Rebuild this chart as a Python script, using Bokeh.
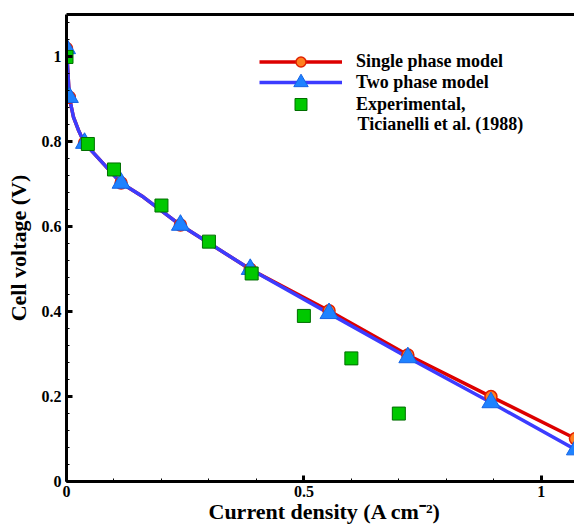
from bokeh.plotting import figure
from bokeh.models import (FixedTicker, LinearAxis, Legend, LegendItem, Label, Title)
from bokeh.embed import file_html
from bokeh.resources import INLINE
import numpy as np

# ---- data ----
single_x = [0.0, 0.006, 0.0147, 0.025, 0.038, 0.065, 0.093, 0.115, 0.162, 0.24, 0.387, 0.553, 0.719, 0.894, 1.072]
single_y = [1.02, 0.905, 0.858, 0.828, 0.797, 0.764, 0.730, 0.703, 0.670, 0.604, 0.500, 0.402, 0.298, 0.200, 0.101]
single_mx = [0.0, 0.006, 0.038, 0.115, 0.24, 0.387, 0.553, 0.719, 0.894, 1.072]
single_my = [1.02, 0.905, 0.797, 0.703, 0.604, 0.500, 0.402, 0.298, 0.200, 0.101]

two_x = [0.0, 0.006, 0.0147, 0.025, 0.038, 0.065, 0.093, 0.115, 0.162, 0.24, 0.387, 0.553, 0.719, 0.894, 1.072]
two_y = [1.02, 0.905, 0.858, 0.828, 0.797, 0.764, 0.730, 0.703, 0.670, 0.604, 0.500, 0.396, 0.292, 0.186, 0.075]
two_mx = [0.0, 0.006, 0.038, 0.115, 0.24, 0.387, 0.553, 0.719, 0.894, 1.072]
two_my = [1.02, 0.905, 0.797, 0.703, 0.604, 0.500, 0.396, 0.292, 0.186, 0.075]

exp_x = [0.0, 0.045, 0.1, 0.2, 0.3, 0.39, 0.5, 0.6, 0.7]
exp_y = [1.0, 0.795, 0.735, 0.65, 0.565, 0.49, 0.39, 0.29, 0.16]

x_ticks = [0, 0.5, 1]
x_tick_labels = ["0", "0.5", "1"]
y_ticks = [0, 0.2, 0.4, 0.6, 0.8, 1.0]
y_tick_labels = ["0", "0.2", "0.4", "0.6", "0.8", "1"]

labels = ["Single phase model", "Two phase model", "Experimental,"]
label_cont = "Ticianelli et al. (1988)"
x_title = "Current density (A cm\u207b\u00b2)"
y_title = "Cell voltage (V)"

FONT = "Liberation Serif"

p = figure(width=574, height=525, x_range=(0, 1.07), y_range=(0, 1.1),
           output_backend="svg", toolbar_location=None,
           min_border_left=66, min_border_right=0, min_border_top=14, min_border_bottom=44)
p.outline_line_color = None
p.grid.visible = False
p.background_fill_color = "white"
p.border_fill_color = "white"

for ax, ticks, labs, minors in ((p.xaxis[0], x_ticks, x_tick_labels, list(np.round(np.arange(0, 1.11, 0.1), 3))),
                                (p.yaxis[0], y_ticks, y_tick_labels, list(np.round(np.arange(0, 1.11, 0.04), 3)))):
    ax.ticker = FixedTicker(ticks=ticks, minor_ticks=minors)
    ax.major_label_overrides = {t: l for t, l in zip(ticks, labs)}
    ax.axis_line_width = 3
    ax.axis_line_color = "black"
    ax.major_tick_in = 6
    ax.major_tick_out = 0
    ax.major_tick_line_width = 3
    ax.minor_tick_in = 3
    ax.minor_tick_out = 0
    ax.minor_tick_line_width = 1
    ax.major_label_text_font = FONT
    ax.major_label_text_font_style = "bold"
    ax.major_label_text_font_size = "16px"
    ax.major_label_text_color = "black"
    ax.major_label_standoff = 4

p.yaxis[0].major_label_standoff = 5
p.yaxis[0].axis_label = y_title
p.yaxis[0].axis_label_text_font = FONT
p.yaxis[0].axis_label_text_font_style = "bold"
p.yaxis[0].axis_label_text_font_size = "22px"
p.yaxis[0].axis_label_text_color = "black"
p.yaxis[0].axis_label_standoff = 8

top = LinearAxis(ticker=FixedTicker(ticks=[]), major_label_text_font_size="0px",
                 major_tick_line_color=None, minor_tick_line_color=None,
                 axis_line_width=3, axis_line_color="black")
p.add_layout(top, "above")

xt = Title(text=x_title, align="left", offset=142, standoff=-6,
           text_font=FONT, text_font_style="bold", text_font_size="22px", text_color="black")
p.add_layout(xt, "below")

r_line = p.line(single_x, single_y, line_color="#DD0000", line_width=3.5)
b_line = p.line(two_x, two_y, line_color="#3C3CFF", line_width=3.5)
r_mark = p.scatter(single_mx, single_my, marker="circle", size=12,
                   fill_color="#FF8020", line_color="#E02000", line_width=1.5)
b_mark = p.scatter(two_mx, two_my, marker="triangle", size=18,
                   fill_color="#1E82FF", line_color="#1464E6", line_width=1)
e_mark = p.scatter(exp_x, exp_y, marker="square", size=13,
                   fill_color="#00C800", line_color="#006E00", line_width=1)

rows = [(labels[0], [r_line, r_mark], 25, 407),
        (labels[1], [b_line, b_mark], 36, 381),
        (labels[2], [e_mark], 30, 362)]
for lab, rends, gh, ly in rows:
    lg = Legend(items=[LegendItem(label=lab, renderers=rends)],
                location=(193, ly), glyph_width=83, glyph_height=gh, label_height=20,
                label_standoff=14, spacing=0, padding=0, margin=0,
                border_line_color=None, background_fill_alpha=0,
                label_text_font=FONT, label_text_font_style="bold",
                label_text_font_size="18px", label_text_color="black")
    p.add_layout(lg)

cont = Label(x=291, y=358, x_units="screen", y_units="screen", text=label_cont,
             text_font=FONT, text_font_style="bold", text_font_size="18px",
             text_align="left", text_baseline="middle", text_color="black")
p.add_layout(cont)

open("out.html", "w").write(file_html(p, INLINE))
